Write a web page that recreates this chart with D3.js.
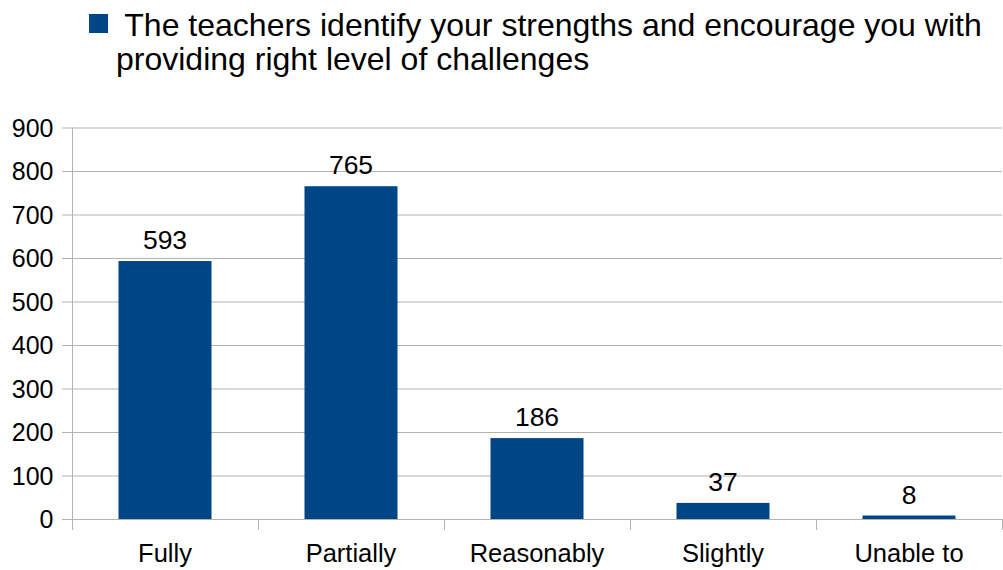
<!DOCTYPE html>
<html><head><meta charset="utf-8">
<script src="https://cdn.jsdelivr.net/npm/d3@7"></script>
<style>body{margin:0;background:#fff}svg{display:block}text{font-family:"Liberation Sans",Arial,sans-serif;fill:#000}</style>
</head><body><svg id="c" width="1003" height="570"></svg>
<script>
const categories = ["Fully","Partially","Reasonably","Slightly","Unable to"];
const values = [593,765,186,37,8];
const yTicks = [0,100,200,300,400,500,600,700,800,900];
const legendLines = ["The teachers identify your strengths and encourage you with","providing right level of challenges"];

const svg = d3.select("#c");
const m = {l:72, r:1002, t:127.5, b:519};
const x = d3.scaleBand().domain(categories).range([m.l, m.r]).paddingInner(0.5).paddingOuter(0.25);
const y = d3.scaleLinear().domain([0,900]).range([m.b, m.t]);
const color = "#004586";

svg.append("g").selectAll("line").data(yTicks).join("line")
  .attr("x1", m.l-10).attr("x2", m.r).attr("y1", d=>y(d)+0.5).attr("y2", d=>y(d)+0.5)
  .attr("stroke", "#b3b3b3").attr("stroke-width",1);
svg.append("line").attr("x1",m.l+0.5).attr("x2",m.l+0.5).attr("y1",m.t).attr("y2",m.b+11)
  .attr("stroke","#b3b3b3");
const bounds = d3.range(categories.length+1).map(i=> m.l + i*(m.r-m.l)/categories.length);
svg.append("g").selectAll("line").data(bounds).join("line")
  .attr("x1",d=>Math.round(d)+0.5).attr("x2",d=>Math.round(d)+0.5).attr("y1",m.b).attr("y2",m.b+11)
  .attr("stroke","#b3b3b3");
svg.append("g").selectAll("text").data(yTicks).join("text")
  .attr("x", 53.5).attr("y", d=>y(d)).attr("dy","0.36em").attr("text-anchor","end")
  .attr("font-size",25).text(d=>d);
svg.append("g").selectAll("rect").data(values).join("rect")
  .attr("x",(d,i)=>x(categories[i])).attr("width",x.bandwidth())
  .attr("y",d=>y(d)).attr("height",d=>m.b-y(d)).attr("fill",color);
svg.append("g").selectAll("text").data(values).join("text")
  .attr("x",(d,i)=>x(categories[i])+x.bandwidth()/2).attr("y",d=>y(d)-12)
  .attr("text-anchor","middle").attr("font-size",26.5).text(d=>d);
svg.append("g").selectAll("text").data(categories).join("text")
  .attr("x",d=>x(d)+x.bandwidth()/2).attr("y",562)
  .attr("text-anchor","middle").attr("font-size",25.5).text(d=>d);
svg.append("rect").attr("x",89).attr("y",14).attr("width",19).attr("height",19).attr("fill",color);
svg.append("text").attr("x",116).attr("y",35.5).attr("font-size",32).attr("xml:space","preserve").text(" "+legendLines[0]);
svg.append("text").attr("x",116).attr("y",70).attr("font-size",32).text(legendLines[1]);
</script></body></html>
